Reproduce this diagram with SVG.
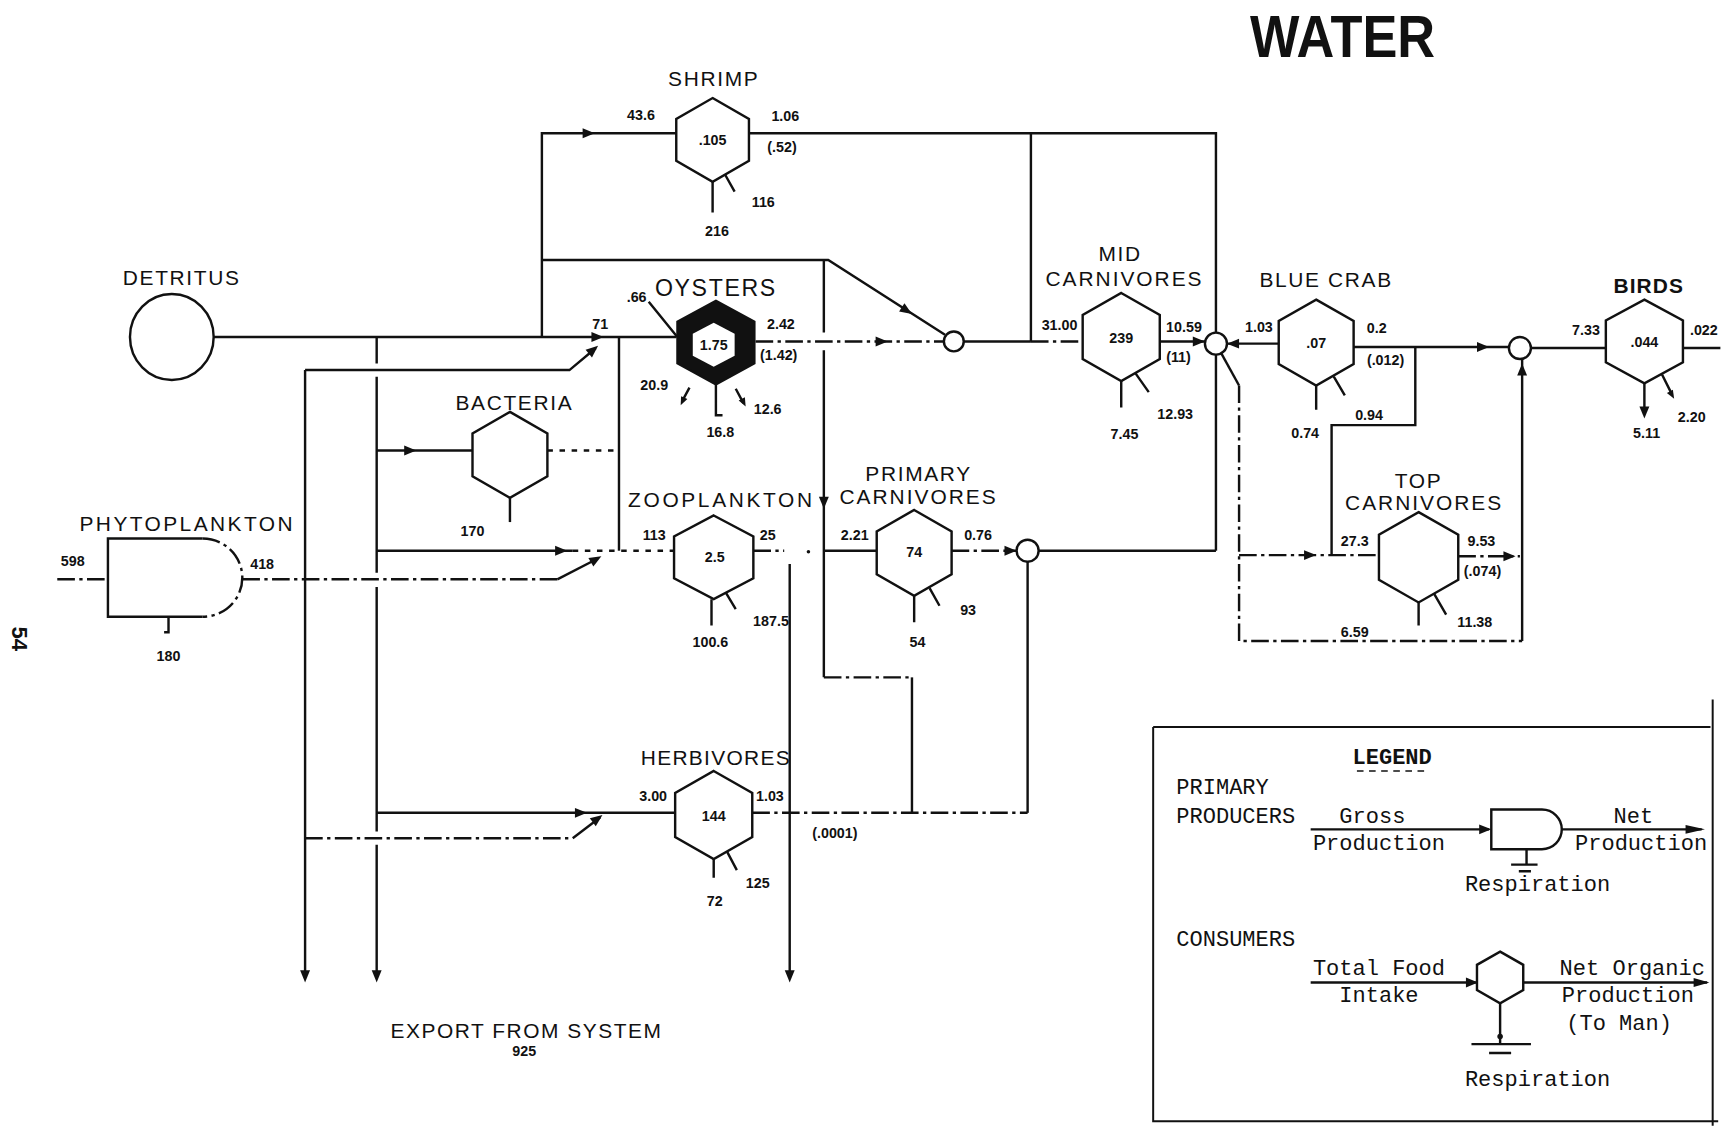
<svg xmlns="http://www.w3.org/2000/svg" xmlns:xlink="http://www.w3.org/1999/xlink" width="1727" height="1126" viewBox="0 0 1727 1126">
<style>
.ln{stroke:#111;stroke-width:2.2;fill:none;stroke-linejoin:miter}
.dd{stroke-dasharray:16 4 3 4}
.dt{stroke-dasharray:5 6}
.hx{stroke:#111;stroke-width:2.2;fill:#fff}
.lbl{font-family:"Liberation Sans",Arial,sans-serif;font-size:19px;text-anchor:middle;letter-spacing:1.5px;fill:#111}
.num{font-family:"Liberation Sans",Arial,sans-serif;font-size:13px;font-weight:bold;text-anchor:middle;fill:#111}
.leg{font-family:"Liberation Mono","Courier New",monospace;font-size:20px;fill:#111}
.ah{fill:#111}
</style>
<defs>
<path id="ah" d="M0,0 L-11,-4.5 L-11,4.5 Z"/>
</defs>
<rect width="1727" height="1126" fill="#fff"/>
<g transform="scale(1.1014)">
<text x="1219" y="52" font-family="Liberation Sans,Arial,sans-serif" font-weight="bold" font-size="54" text-anchor="middle" textLength="168" lengthAdjust="spacingAndGlyphs" fill="#111">WATER</text>
<text transform="translate(11,580) rotate(90)" font-family="Liberation Sans,Arial,sans-serif" font-weight="bold" font-size="20" text-anchor="middle" fill="#111">54</text>

<g id="connectors">
<!-- detritus main line -->
<path class="ln" d="M194,306 H614"/>
<use href="#ah" class="ah" transform="translate(548,306)"/>
<path class="ln" d="M492,306 V121 H614"/>
<use href="#ah" class="ah" transform="translate(540,121)"/>
<path class="ln" d="M492,236 H752 L858,304"/>
<use href="#ah" class="ah" transform="translate(828,285) rotate(32.7)"/>
<path class="ln" d="M748,236 V302 M748,318 V615"/>
<path class="ln dd" d="M748,615 H828"/>
<path class="ln" d="M828,615 V738"/>
<use href="#ah" class="ah" transform="translate(748,462) rotate(90)"/>
<!-- shrimp output -->
<path class="ln" d="M680,121 H1104 V302"/>
<path class="ln" d="M936,121 V310"/>
<!-- oyster output -->
<path class="ln dd" d="M686,310 H857"/>
<use href="#ah" class="ah" transform="translate(806,310)"/>
<path class="ln" d="M875,310 H936"/>
<path class="ln dd" d="M936,310 H983"/>
<!-- mid carnivores output -->
<path class="ln" d="M1053,310 H1094"/>
<use href="#ah" class="ah" transform="translate(1094,310)"/>
<!-- blue crab input -->
<path class="ln" d="M1114,312 H1161"/>
<use href="#ah" class="ah" transform="translate(1114,312) rotate(180)"/>
<!-- blue crab output -->
<path class="ln" d="M1229,315 H1370"/>
<use href="#ah" class="ah" transform="translate(1352,315)"/>
<path class="ln" d="M1390,316 H1458"/>
<path class="ln" d="M1285,315 V386 H1209 V504"/>
<!-- circle at 1104 down -->
<path class="ln" d="M1104,322 V500"/>
<path class="ln" d="M943,500 H1104"/>
<path class="ln" d="M1109,321 L1125,350"/>
<path class="ln dd" d="M1125,350 V582 H1382"/>
<path class="ln" d="M1382,582 V326"/>
<use href="#ah" class="ah" transform="translate(1382,330) rotate(-90)"/>
<!-- top carn input -->
<path class="ln dd" d="M1125,504 H1252"/>
<use href="#ah" class="ah" transform="translate(1195,504)"/>
<!-- top carn output -->
<path class="ln dd" d="M1324,505 H1380"/>
<use href="#ah" class="ah" transform="translate(1376,505)"/>
<!-- birds output -->
<path class="ln" d="M1528,316 H1562"/>
<!-- left verticals -->
<path class="ln" d="M277,336 V886"/>
<use href="#ah" class="ah" transform="translate(277,892) rotate(90)"/>
<path class="ln" d="M277,336 H517 L541,316"/>
<use href="#ah" class="ah" transform="translate(543,314) rotate(-40)"/>
<path class="ln dd" d="M277,761 H520"/>
<path class="ln" d="M520,761 L545,742"/>
<use href="#ah" class="ah" transform="translate(547,740) rotate(-37)"/>
<path class="ln" d="M342,306 V330 M342,342 V520 M342,533 V755 M342,767 V886"/>
<use href="#ah" class="ah" transform="translate(342,892) rotate(90)"/>
<path class="ln" d="M342,409 H429"/>
<use href="#ah" class="ah" transform="translate(378,409)"/>
<path class="ln" d="M342,500 H520"/>
<use href="#ah" class="ah" transform="translate(515,500)"/>
<path class="ln dt" d="M520,500 H612"/>
<path class="ln dt" d="M497,409 H562"/>
<path class="ln" d="M562,306 V500"/>
<path class="ln" d="M342,738 H613"/>
<use href="#ah" class="ah" transform="translate(533,738)"/>
<!-- phyto output -->
<path class="ln dd" d="M52,526 H98"/>
<path class="ln dd" d="M220,526 H506"/>
<path class="ln" d="M506,526 L541,508"/>
<use href="#ah" class="ah" transform="translate(546,505) rotate(-30)"/>
<!-- zooplankton output -->
<path class="ln dd" d="M684,500 H712"/>
<circle cx="734" cy="501" r="1.6" fill="#111"/>
<path class="ln" d="M717,512 V886"/>
<use href="#ah" class="ah" transform="translate(717,892) rotate(90)"/>
<!-- primary carnivores -->
<path class="ln" d="M748,500 H796"/>
<path class="ln dd" d="M864,500 H923"/>
<use href="#ah" class="ah" transform="translate(923,500)"/>
<path class="ln" d="M933,510 V738"/>
<!-- herbivores output -->
<path class="ln dd" d="M683,738 H933"/>
</g>

<g id="detritus">
<ellipse cx="156" cy="306" rx="38" ry="39" class="hx"/>
<text class="lbl" x="165" y="259">DETRITUS</text>
</g>

<g id="shrimp">
<polygon class="hx" points="647,89 680,108 680,146 647,165 614,146 614,108"/>
<text class="lbl" x="648" y="78">SHRIMP</text>
<text class="num" x="647" y="132">.105</text>
<text class="num" x="582" y="109">43.6</text>
<text class="num" x="713" y="110">1.06</text>
<text class="num" x="710" y="138">(.52)</text>
<text class="num" x="693" y="188">116</text>
<text class="num" x="651" y="214">216</text>
<path class="ln" d="M647,165 V193 M658,158 L667,174"/>
</g>

<g id="oysters">
<polygon points="650,273 685,292 685,330 650,349 615,330 615,292" fill="#111" stroke="#111" stroke-width="2"/>
<polygon points="648,293 667,303 667,323 648,333 629,323 629,303" fill="#fff"/>
<text class="lbl" x="650" y="269" style="font-size:21px">OYSTERS</text>
<text class="num" x="648" y="318">1.75</text>
<text class="num" x="578" y="274">.66</text>
<text class="num" x="545" y="299">71</text>
<text class="num" x="709" y="299">2.42</text>
<text class="num" x="707" y="327">(1.42)</text>
<text class="num" x="594" y="354">20.9</text>
<text class="num" x="697" y="376">12.6</text>
<text class="num" x="654" y="397">16.8</text>
<path class="ln" d="M589,274 L615,306 M650,349 V377 H656 M668,353 L675,366 M626,352 L620,363"/>
<use href="#ah" class="ah" transform="translate(618,368) rotate(115) scale(0.7)"/>
<use href="#ah" class="ah" transform="translate(677,369) rotate(63) scale(0.7)"/>
</g>

<g id="bacteria">
<polygon class="hx" points="463,374 497,393.5 497,432.5 463,452 429,432.5 429,393.5"/>
<text class="lbl" x="467" y="372">BACTERIA</text>
<text class="num" x="429" y="487">170</text>
<path class="ln" d="M463,452 V474"/>
</g>

<g id="phytoplankton">
<path class="ln" d="M184,489 H98 V560 H184"/>
<path class="ln dd" d="M184,489 A36,35.5 0 0 1 184,560"/>
<text class="lbl" x="170" y="482" style="letter-spacing:2.2px">PHYTOPLANKTON</text>
<text class="num" x="66" y="514">598</text>
<text class="num" x="238" y="517">418</text>
<text class="num" x="153" y="600">180</text>
<path class="ln" d="M153,560 V574 H149"/>
</g>

<g id="zooplankton">
<polygon class="hx" points="648,468 684,487 684,525 648,544 612,525 612,487"/>
<text class="lbl" x="655" y="460" style="letter-spacing:2.4px">ZOOPLANKTON</text>
<text class="num" x="649" y="510">2.5</text>
<text class="num" x="594" y="490">113</text>
<text class="num" x="697" y="490">25</text>
<text class="num" x="700" y="568">187.5</text>
<text class="num" x="645" y="587">100.6</text>
<path class="ln" d="M646,544 V568 M659,538 L668,553"/>
</g>

<g id="primary-carnivores">
<polygon class="hx" points="830,463 864,482.5 864,521.5 830,541 796,521.5 796,482.5"/>
<text class="lbl" x="834" y="437">PRIMARY</text>
<text class="lbl" x="834" y="458" style="letter-spacing:1.8px">CARNIVORES</text>
<text class="num" x="830" y="506">74</text>
<text class="num" x="776" y="490">2.21</text>
<text class="num" x="888" y="490">0.76</text>
<text class="num" x="879" y="558">93</text>
<text class="num" x="833" y="587">54</text>
<path class="ln" d="M830,541 V565 M844,534 L853,550"/>
<circle cx="933" cy="500" r="10" class="hx"/>
</g>

<g id="herbivores">
<polygon class="hx" points="648,700 683,720 683,760 648,780 613,760 613,720"/>
<text class="lbl" x="650" y="695" style="letter-spacing:1.2px">HERBIVORES</text>
<text class="num" x="648" y="745">144</text>
<text class="num" x="593" y="727">3.00</text>
<text class="num" x="699" y="727">1.03</text>
<text class="num" x="758" y="761">(.0001)</text>
<text class="num" x="688" y="806">125</text>
<text class="num" x="649" y="823">72</text>
<path class="ln" d="M648,780 V797 M660,773 L669,790"/>
</g>

<g id="mid-carnivores">
<polygon class="hx" points="1018,266 1053,286 1053,326 1018,346 983,326 983,286"/>
<text class="lbl" x="1017" y="237">MID</text>
<text class="lbl" x="1021" y="260" style="letter-spacing:1.8px">CARNIVORES</text>
<text class="num" x="1018" y="311">239</text>
<text class="num" x="962" y="300">31.00</text>
<text class="num" x="1075" y="301">10.59</text>
<text class="num" x="1070" y="329">(11)</text>
<text class="num" x="1067" y="380">12.93</text>
<text class="num" x="1021" y="399">7.45</text>
<path class="ln" d="M1018,346 V370 M1031,339 L1043,356"/>
<circle cx="866" cy="310" r="9" class="hx"/>
<circle cx="1104" cy="312" r="10" class="hx"/>
</g>

<g id="blue-crab">
<polygon class="hx" points="1195,272 1229,291.5 1229,330.5 1195,350 1161,330.5 1161,291.5"/>
<text class="lbl" x="1204" y="261">BLUE CRAB</text>
<text class="num" x="1195" y="316">.07</text>
<text class="num" x="1143" y="301">1.03</text>
<text class="num" x="1250" y="302">0.2</text>
<text class="num" x="1258" y="331">(.012)</text>
<text class="num" x="1243" y="381">0.94</text>
<text class="num" x="1185" y="398">0.74</text>
<path class="ln" d="M1195,350 V372 M1211,342 L1221,359"/>
</g>

<g id="top-carnivores">
<polygon class="hx" points="1288,465 1324,485.5 1324,526.5 1288,547 1252,526.5 1252,485.5"/>
<text class="lbl" x="1288" y="443">TOP</text>
<text class="lbl" x="1293" y="463" style="letter-spacing:1.8px">CARNIVORES</text>
<text class="num" x="1230" y="496">27.3</text>
<text class="num" x="1345" y="496">9.53</text>
<text class="num" x="1346" y="523">(.074)</text>
<text class="num" x="1230" y="578">6.59</text>
<text class="num" x="1339" y="569">11.38</text>
<path class="ln" d="M1288,547 V568 M1302,539 L1313,558"/>
</g>

<g id="birds">
<polygon class="hx" points="1493,272 1528,291 1528,329 1493,348 1458,329 1458,291"/>
<text class="lbl" x="1497" y="266" style="font-weight:bold;letter-spacing:1px">BIRDS</text>
<text class="num" x="1493" y="315">.044</text>
<text class="num" x="1440" y="304">7.33</text>
<text class="num" x="1547" y="304">.022</text>
<text class="num" x="1536" y="383">2.20</text>
<text class="num" x="1495" y="398">5.11</text>
<path class="ln" d="M1493,348 V372 M1509,340 L1517,356"/>
<use href="#ah" class="ah" transform="translate(1493,380) rotate(90)"/>
<use href="#ah" class="ah" transform="translate(1520,362) rotate(60) scale(0.7)"/>
<circle cx="1380" cy="316" r="10" class="hx"/>
</g>

<g id="export">
<text class="lbl" x="478" y="942" style="letter-spacing:1.4px">EXPORT FROM SYSTEM</text>
<text class="num" x="476" y="959">925</text>
</g>

<g id="legend">
<path class="ln" d="M1047,660 H1553 M1047,660 V1018 H1560 M1555,635 V1022" style="stroke-width:1.8"/>
<text class="leg" x="1264" y="694" text-anchor="middle" font-weight="bold" font-size="17">LEGEND</text>
<path class="ln" d="M1232,700 H1296" style="stroke-width:1.2;stroke-dasharray:6 5"/>
<text class="leg" x="1068" y="721">PRIMARY</text>
<text class="leg" x="1068" y="747">PRODUCERS</text>
<text class="leg" x="1246" y="747" text-anchor="middle">Gross</text>
<text class="leg" x="1252" y="772" text-anchor="middle">Production</text>
<path class="ln" d="M1190,753 H1352"/>
<use href="#ah" class="ah" transform="translate(1354,753)"/>
<path class="ln" d="M1354,735 H1400 A18,18 0 0 1 1400,771 H1354 Z"/>
<path class="ln" d="M1418,753 H1545"/>
<use href="#ah" class="ah" transform="translate(1548,753) scale(1.6,0.9)"/>
<text class="leg" x="1483" y="747" text-anchor="middle">Net</text>
<text class="leg" x="1490" y="772" text-anchor="middle">Production</text>
<path class="ln" d="M1386,771 V785 M1372,785 H1396 M1379,791 H1390"/>
<text class="leg" x="1396" y="809" text-anchor="middle">Respiration</text>
<text class="leg" x="1068" y="859">CONSUMERS</text>
<text class="leg" x="1252" y="885" text-anchor="middle">Total Food</text>
<text class="leg" x="1252" y="910" text-anchor="middle">Intake</text>
<path class="ln" d="M1190,892 H1340"/>
<use href="#ah" class="ah" transform="translate(1342,892)"/>
<polygon class="hx" points="1362,864 1383,876 1383,899 1362,911 1341,899 1341,876"/>
<path class="ln" d="M1383,892 H1550"/>
<use href="#ah" class="ah" transform="translate(1552,892) scale(1.3,0.9)"/>
<text class="leg" x="1482" y="885" text-anchor="middle">Net Organic</text>
<text class="leg" x="1478" y="910" text-anchor="middle">Production</text>
<text class="leg" x="1470" y="935" text-anchor="middle">(To Man)</text>
<path class="ln" d="M1362,911 V948 M1336,948 H1390 M1352,956 H1372"/>
<circle cx="1362" cy="941" r="2.5" fill="#111"/>
<text class="leg" x="1396" y="986" text-anchor="middle">Respiration</text>
</g>
</g>
</svg>
